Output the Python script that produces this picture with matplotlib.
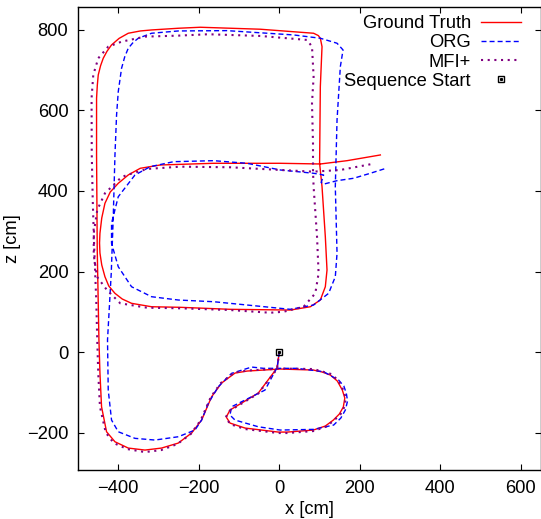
import numpy as np
import matplotlib
matplotlib.use("Agg")
import matplotlib.pyplot as plt
from matplotlib.legend_handler import HandlerTuple

plt.rcParams['font.family'] = ['Liberation Sans', 'DejaVu Sans']

# trajectories [cm]
gt_x = [0, -5.7, -52.2, -101.9, -122.5, -131.7, -122.5, -85.2, -2.5, 19.9, 84.5, 114.3, 134.2, 149.1,
        159, 162.7, 156.5, 144.1, 126.7, 106.8, 84.5, 2.5, -79.5, -110, -143.4, -168.2, -193, -217.9,
        -250.9, -292.4, -333.7, -375.2, -408.2, -429.1, -441.5, -445.5, -448, -452.2, -453.9, -453.9,
        -452, -449.7, -444, -437.3, -428, -416.7, -398, -375.2, -345, -317.3, -250.9, -196.3, -47.2,
        85.2, 97, 101.9, 106.1, 101.9, 100.1, 106.1, 114.3, 118.5, 114.3, 101.9, 77, 27.3, -121.7,
        -246, -317.3, -367, -390.1, -408.2, -423.6, -433.1, -441, -445.5, -446.5, -445.5, -441,
        -433.1, -419.9, -400, -375.2, -345.3, -295.7, -163.3, 2.5, 101.9, 168.2, 251]
gt_z = [0, -39.8, -101.9, -131.7, -144.1, -161.5, -176.4, -188.8, -198.8, -198.8, -193.8, -183.8,
        -169, -154, -136.6, -114.3, -94.4, -72, -57.1, -49.7, -44.7, -42.2, -47.2, -52.2, -77, -111.1,
        -169, -201.2, -226.1, -238.5, -243.5, -238.5, -222.9, -198, -135.9, -52.2, 29.8, 253.4,
        489.5, 630.3, 663, 688.2, 711, 729.7, 747, 762.8, 779, 791.8, 797.5, 800, 804.2, 806.7,
        801.8, 791.8, 786, 779.4, 758.5, 659.1, 468.8, 410.7, 286.5, 203.7, 162.2, 129.2, 112.5,
        104.3, 106.1, 111.1, 112.5, 121, 131.7, 145.8, 164, 187.1, 216.2, 246, 270.8, 294.9, 332.9,
        369.4, 397.5, 419.1, 439.8, 456.4, 464.6, 468.8, 468.8, 467.1, 475.3, 489.5]

org_x = [0, -5, -35.5, -85.2, -118.5, -122.5, -110, -52.2, 2.5, 85.2, 134.9, 152.8, 164, 169.5, 166.5,
         160.3, 147.3, 110, 44, -39, -68.8, -118.5, -151.6, -176.4, -193, -209.5, -250.9, -308.8,
         -358.5, -400, -416.7, -424.9, -426.7, -417.4, -412.4, -408.2, -404.2, -400, -391.8, -384,
         -375.2, -363, -350.3, -317.3, -250.9, -129.9, 35.5, 101.9, 143.4, 158.3, 151.6, 143.4, 139.1,
         143.4, 139.1, 122.5, 85.2, 27.3, -80.2, -163.3, -250.9, -317.3, -367, -400, -416.7, -416.7,
         -400, -358.5, -320.5, -262.6, -163.3, -80.2, 2.5, 85.2, 110, 104, 110, 143.4, 184.6, 226.1,
         264]
org_z = [0, -37.3, -94.4, -119.3, -135.9, -156.5, -169, -185.6, -193.8, -192.1, -181.4, -164, -144.1,
         -121.7, -102.6, -84.5, -69.6, -48.9, -40.5, -40.5, -37.3, -52.9, -86.2, -127.5, -169, -193.8,
         -210.4, -218.6, -214.4, -198, -168.9, -94.4, 29.8, 196.3, 336.2, 489.4, 588.8, 646.7, 704.8,
         733, 754.5, 769, 779.4, 791.8, 797.5, 798.3, 787.6, 779.4, 767, 750.3, 708.8, 576.4, 410.7,
         245.2, 187.1, 145.8, 116.8, 106.1, 116.8, 125, 129.2, 137.4, 162.2, 211.9, 270.1, 319.8,
         385.8, 439.8, 460.4, 472.8, 475.3, 468.8, 452.2, 444, 439.8, 421, 417, 425.6, 431.6, 444,
         456]

mfi_x = [0, -5.7, -52.2, -101.9, -122.5, -132.9, -122.5, -85.2, -2.5, 19.9, 84.5, 116.8, 136.6, 151.6,
         161.5, 165.2, 159, 146.6, 129.2, 106.8, 84.5, 2.5, -79.5, -111.8, -145.3, -170.2, -195,
         -219.9, -253.4, -293.2, -333.7, -377.6, -411.2, -431.1, -445.5, -449.7, -452.2, -454.7,
         -459.6, -463.4, -465.8, -466.3, -462.1, -449.7, -424.9, -391.8, -333.7, -250.9, -176.4, -47.2,
         68.8, 81.2, 85.2, 81.2, 83.7, 83.7, 85.2, 93.7, 97.6, 89.4, 60.4, 10.7, -22.4, -121.7, -246,
         -328.7, -395, -428.1, -452.9, -460.9, -460.9, -452.2, -433.1, -411.7, -391.8, -370.2, -328.7,
         -246, -121.7, 2.5, 83.7, 151.6, 226.1]
mfi_z = [0, -42.2, -103.1, -132.9, -145.3, -161.5, -178.9, -191.3, -201.2, -201.2, -196.3, -185.1,
         -169, -155.3, -136.6, -114.3, -94.4, -70.8, -54.7, -48.4, -42.2, -41, -46, -50.9, -77, -111.8,
         -169, -203.7, -228.6, -243.5, -248.5, -241, -226.1, -200, -135.9, -52.2, 29.8, 129.2, 253.4,
         377.6, 489.4, 630.3, 688.2, 729.7, 758.5, 770.9, 783.4, 785.9, 789.3, 785.1, 775.2, 758.5,
         684, 617.9, 518.5, 448, 410.7, 286.5, 195.5, 145.8, 112.5, 100.1, 97.6, 104.3, 108.6, 110.1,
         121, 154, 187.1, 241, 295.7, 352.8, 394.3, 414.9, 434.8, 442.2, 454.7, 460.4, 458.9, 452.2,
         448, 452.2, 466.3]

start_x = [0]
start_z = [0]

fig = plt.figure(figsize=(5.41, 5.19), dpi=100)
ax = fig.add_axes([78 / 541, 1 - 470 / 519, 463 / 541, 463 / 519])

l_gt, = ax.plot(gt_x, gt_z, color='#ff0000', lw=1.0, label='Ground Truth')
l_org, = ax.plot(org_x, org_z, color='#0000ff', lw=1.0, dashes=(3.6, 2.2), label='ORG')
l_mfi, = ax.plot(mfi_x, mfi_z, color='#800080', lw=1.5, dashes=(1.0, 2.2), label='MFI+')
m_sq, = ax.plot(start_x, start_z, 's', ms=5, mfc='none', mec='black', mew=1.0, ls='none')
m_dot, = ax.plot(start_x, start_z, 's', ms=1.2, mfc='black', mec='black', ls='none')

ax.set_xlim(-500, 650)
ax.set_ylim(-293, 857)
ax.set_xticks([-400, -200, 0, 200, 400, 600])
ax.set_yticks([-200, 0, 200, 400, 600, 800])
ax.tick_params(direction='in', length=4.5, width=0.8, top=True, right=True, labelsize=13.2, pad=7)
for s in ax.spines.values():
    s.set_linewidth(1.0)

ax.set_xlabel('x [cm]', fontsize=13.2, labelpad=3)
ax.set_ylabel('z [cm]', fontsize=13.2, labelpad=4)

ax.legend([l_gt, l_org, l_mfi, (m_sq, m_dot)],
          ['Ground Truth', 'ORG', 'MFI+', 'Sequence Start'],
          handler_map={tuple: HandlerTuple(ndivide=1, pad=0)},
          loc='upper right', bbox_to_anchor=(0.975, 1.0), frameon=False,
          markerfirst=False, fontsize=13.2, handlelength=2.2, handletextpad=0.55,
          labelspacing=0.12, borderaxespad=0.25, borderpad=0.2)

fig.savefig('out.png', dpi=100)
